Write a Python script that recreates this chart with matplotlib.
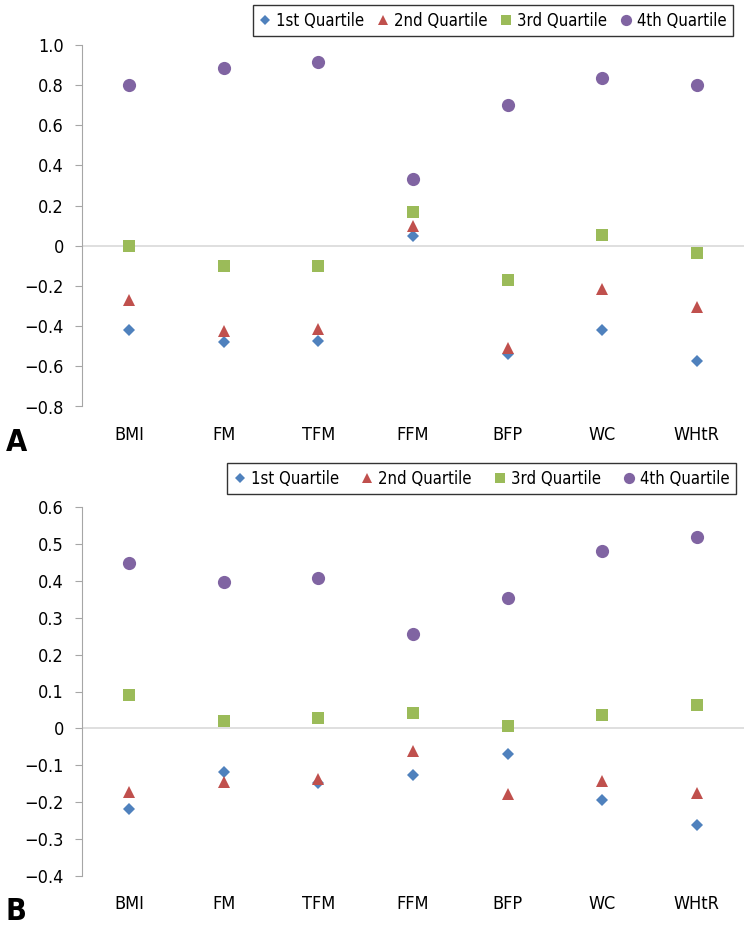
import matplotlib
matplotlib.use("Agg")
import matplotlib.pyplot as plt
from matplotlib.lines import Line2D

plt.rcParams['font.family'] = ['DejaVu Sans']
plt.rcParams['font.stretch'] = 'condensed'

categories = ["BMI", "FM", "TFM", "FFM", "BFP", "WC", "WHtR"]
series_names = ["1st Quartile", "2nd Quartile", "3rd Quartile", "4th Quartile"]

# Panel A
a_q1 = [-0.42, -0.48, -0.475, 0.05, -0.54, -0.42, -0.575]
a_q2 = [-0.27, -0.425, -0.415, 0.10, -0.51, -0.215, -0.305]
a_q3 = [0.00, -0.10, -0.10, 0.17, -0.17, 0.055, -0.035]
a_q4 = [0.80, 0.885, 0.915, 0.335, 0.70, 0.835, 0.80]
a_ticks = [-0.8, -0.6, -0.4, -0.2, 0, 0.2, 0.4, 0.6, 0.8, 1.0]
a_labels = ["\u22120.8", "\u22120.6", "\u22120.4", "\u22120.2", "0", "0.2", "0.4", "0.6", "0.8", "1.0"]

# Panel B
b_q1 = [-0.218, -0.117, -0.148, -0.127, -0.069, -0.195, -0.262]
b_q2 = [-0.172, -0.145, -0.137, -0.060, -0.178, -0.142, -0.174]
b_q3 = [0.090, 0.019, 0.029, 0.043, 0.007, 0.036, 0.064]
b_q4 = [0.447, 0.396, 0.408, 0.256, 0.353, 0.480, 0.519]
b_ticks = [-0.4, -0.3, -0.2, -0.1, 0, 0.1, 0.2, 0.3, 0.4, 0.5, 0.6]
b_labels = ["\u22120.4", "\u22120.3", "\u22120.2", "\u22120.1", "0", "0.1", "0.2", "0.3", "0.4", "0.5", "0.6"]

colors = ["#4F81BD", "#C0504D", "#9BBB59", "#8064A2"]
markers = ["D", "^", "s", "o"]
msizes = [6.5, 8.5, 8, 9.5]

W, H = 746, 927
fig = plt.figure(figsize=(W / 100, H / 100), dpi=100)


def make_axes(top, bottom, left=82, right=744):
    return fig.add_axes([left / W, 1 - bottom / H, (right - left) / W, (bottom - top) / H])


def draw(ax, data, ticks, labels, ylim):
    x = list(range(len(categories)))
    for vals, c, m, s in zip(data, colors, markers, msizes):
        ax.plot(x, vals, linestyle="none", marker=m, color=c, markersize=s, markeredgewidth=0)
    ax.axhline(0, color="#D9D9D9", lw=1.2, zorder=0)
    ax.set_xlim(-0.5, len(categories) - 0.5)
    ax.set_ylim(*ylim)
    ax.set_yticks(ticks)
    ax.set_yticklabels(labels, fontsize=13)
    ax.set_xticks(x)
    ax.set_xticklabels(categories, fontsize=13)
    for sp in ["top", "right", "bottom"]:
        ax.spines[sp].set_visible(False)
    ax.spines["left"].set_color("#A6A6A6")
    ax.tick_params(axis="y", length=5, color="#A6A6A6", pad=8)
    ax.tick_params(axis="x", length=0, pad=14)


def legend(bbox, colsp):
    handles = [Line2D([], [], linestyle="none", marker=m, color=c, markersize=s * 0.85, markeredgewidth=0)
               for c, m, s in zip(colors, markers, msizes)]
    leg = fig.legend(handles, series_names, loc="upper right", bbox_to_anchor=bbox,
                     bbox_transform=fig.transFigure, ncol=4, fontsize=12, frameon=True,
                     fancybox=False, edgecolor="black", handlelength=0.7, handletextpad=0.3,
                     columnspacing=colsp, borderpad=0.4, borderaxespad=0)
    leg.get_frame().set_linewidth(1.0)


axA = make_axes(45, 406.5)
draw(axA, [a_q1, a_q2, a_q3, a_q4], a_ticks, a_labels, (-0.8, 1.0))
legend((733 / W, 1 - 5 / H), 0.78)

axB = make_axes(507, 876)
draw(axB, [b_q1, b_q2, b_q3, b_q4], b_ticks, b_labels, (-0.4, 0.6))
legend((736 / W, 1 - 463 / H), 1.35)

fig.text(6 / W, 1 - 442 / H, "A", fontsize=22, fontweight="bold", va="center", ha="left")
fig.text(6 / W, 1 - 912 / H, "B", fontsize=22, fontweight="bold", va="center", ha="left")

fig.savefig("out.png", dpi=100)
